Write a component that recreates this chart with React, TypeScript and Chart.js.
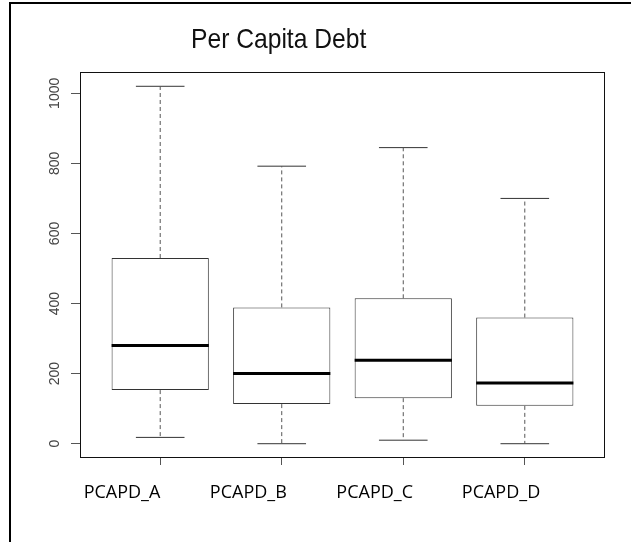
import React, { useEffect, useRef } from 'react';
import { Chart, registerables } from 'chart.js';

Chart.register(...registerables);

// ---- data ----
const chartTitle = 'Per Capita Debt';
const categories = ['PCAPD_A', 'PCAPD_B', 'PCAPD_C', 'PCAPD_D'];
const whiskerLow = [18, 0, 10, 0];
const q1 = [153, 113, 130, 108];
const median = [280, 200, 238, 173];
const q3 = [530, 389, 415, 360];
const whiskerHigh = [1020, 792, 845, 700];
const yTicks = [0, 200, 400, 600, 800, 1000];

// ---- derived helpers (R boxplot conventions) ----
const boxHalf = 0.4;
const stapleHalf = 0.2;
const positions = categories.map((_, i) => i + 1);
const dataMin = Math.min(...whiskerLow);
const dataMax = Math.max(...whiskerHigh);
const yPad = (dataMax - dataMin) * 0.04;
const xPad = categories.length * 0.04;

type P = { x: number; y: number | null };
const seg = (x1: number, y1: number, x2: number, y2: number): P[] => [
  { x: x1, y: y1 },
  { x: x2, y: y2 },
  { x: x2, y: null },
];

const boxData = positions.map((x, i) => ({ x, y: [q1[i], q3[i]] }));
const medianData = positions.flatMap((x, i) => seg(x - boxHalf, median[i], x + boxHalf, median[i]));
const whiskerData = positions.flatMap((x, i) => [
  ...seg(x, q3[i], x, whiskerHigh[i]),
  ...seg(x, q1[i], x, whiskerLow[i]),
]);
const stapleData = positions.flatMap((x, i) => [
  ...seg(x - stapleHalf, whiskerHigh[i], x + stapleHalf, whiskerHigh[i]),
  ...seg(x - stapleHalf, whiskerLow[i], x + stapleHalf, whiskerLow[i]),
]);

const framePlugin = {
  id: 'frame',
  afterDraw(chart: any) {
    const { ctx, chartArea: a } = chart;
    ctx.save();
    ctx.strokeStyle = '#111';
    ctx.lineWidth = 1;
    ctx.strokeRect(a.left + 0.5, a.top + 0.5, a.right - a.left - 1, a.bottom - a.top - 1);
    ctx.strokeStyle = '#000';
    ctx.lineWidth = 2;
    ctx.beginPath();
    ctx.moveTo(10, chart.height);
    ctx.lineTo(10, 3);
    ctx.lineTo(chart.width, 3);
    ctx.stroke();
    ctx.fillStyle = '#111';
    ctx.font = '28px "Liberation Sans", Arial, sans-serif';
    ctx.textBaseline = 'alphabetic';
    ctx.textAlign = 'left';
    ctx.translate(191, 48);
    ctx.scale(0.88, 1);
    ctx.fillText(chartTitle, 0, 0);
    ctx.restore();
  },
};

export default function App() {
  const ref = useRef<HTMLCanvasElement | null>(null);
  useEffect(() => {
    if (!ref.current) return;
    const chart = new Chart(ref.current, {
      type: 'bar',
      data: {
        datasets: [
          {
            type: 'line',
            data: medianData as any,
            borderColor: '#000',
            borderWidth: 3,
            borderCapStyle: 'butt',
            pointRadius: 0,
            fill: false,
            spanGaps: false,
            order: 0,
          } as any,
          {
            type: 'line',
            data: whiskerData as any,
            borderColor: '#555',
            borderWidth: 1,
            borderDash: [4, 3],
            pointRadius: 0,
            fill: false,
            spanGaps: false,
            order: 1,
          } as any,
          {
            type: 'line',
            data: stapleData as any,
            borderColor: '#333',
            borderWidth: 1,
            pointRadius: 0,
            fill: false,
            spanGaps: false,
            order: 2,
          } as any,
          {
            type: 'bar',
            data: boxData as any,
            backgroundColor: '#fff',
            borderColor: '#333',
            borderWidth: 1,
            borderSkipped: false,
            barPercentage: boxHalf * 2,
            categoryPercentage: 1,
            order: 3,
          } as any,
        ],
      },
      options: {
        responsive: false,
        animation: false,
        events: [],
        layout: { padding: { left: 0, top: 72, right: 26, bottom: 0 } },
        plugins: { legend: { display: false }, tooltip: { enabled: false }, title: { display: false } },
        scales: {
          x: {
            type: 'linear',
            position: 'bottom',
            weight: 0,
            offset: false,
            min: 1 - 0.5 - xPad,
            max: categories.length + 0.5 + xPad,
            afterBuildTicks: (s: any) => {
              s.ticks = positions.map((v) => ({ value: v }));
            },
            afterFit: (s: any) => {
              s.height = 7;
            },
            grid: { display: true, offset: false, drawOnChartArea: false, drawTicks: true, tickLength: 7, color: '#555' },
            border: { display: false },
            ticks: { display: false },
          },
          xl: {
            type: 'linear',
            position: 'bottom',
            weight: 1,
            offset: false,
            min: 0.6675,
            max: 4.8232,
            afterBuildTicks: (s: any) => {
              s.ticks = positions.map((v) => ({ value: v }));
            },
            afterFit: (s: any) => {
              s.height = 77;
            },
            grid: { display: false, drawTicks: false, offset: false },
            border: { display: false },
            ticks: {
              display: true,
              autoSkip: false,
              maxRotation: 0,
              minRotation: 0,
              padding: 17,
              color: '#000',
              font: { family: '"Open Sans", sans-serif', size: 18 },
              callback: (_v: any, i: number) => categories[i],
            },
          },
          y: {
            type: 'linear',
            min: dataMin - yPad,
            max: dataMax + yPad,
            afterBuildTicks: (s: any) => {
              s.ticks = yTicks.map((v) => ({ value: v }));
            },
            afterFit: (s: any) => {
              s.width = 80;
            },
            grid: { display: true, drawOnChartArea: false, drawTicks: true, tickLength: 9, color: '#555' },
            border: { display: false },
            ticks: {
              minRotation: 90,
              maxRotation: 90,
              crossAlign: 'center',
              padding: 0,
              color: '#444',
              font: { family: '"Liberation Sans", Arial, sans-serif', size: 14 },
              callback: (v: any) => String(v),
            },
          },
        },
      } as any,
      plugins: [framePlugin],
    });
    return () => chart.destroy();
  }, []);

  return (
    <div style={{ position: 'absolute', left: 0, top: 0, width: 631, height: 542, background: '#fff' }}>
      <canvas ref={ref} width={631} height={542} />
    </div>
  );
}
